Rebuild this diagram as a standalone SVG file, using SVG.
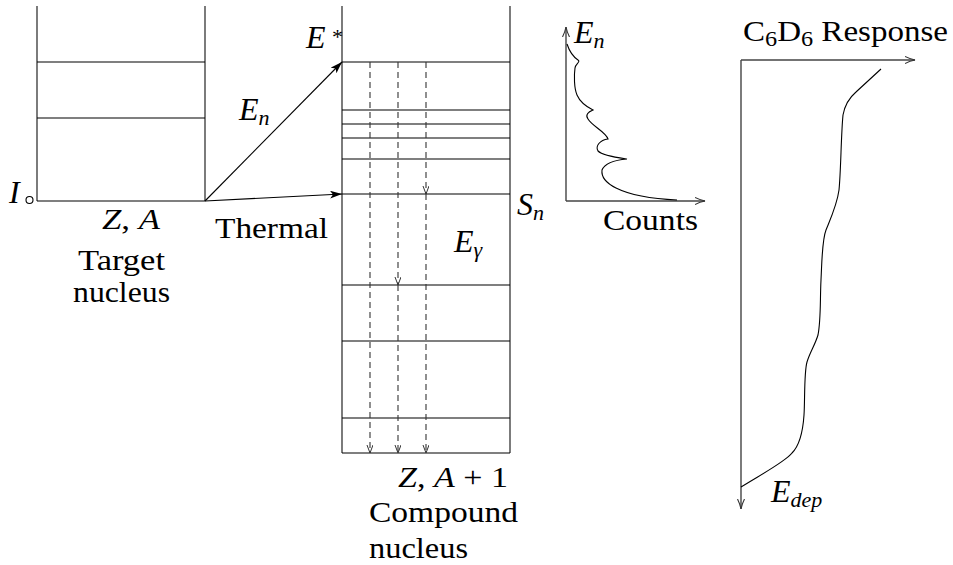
<svg xmlns="http://www.w3.org/2000/svg" width="953" height="565" viewBox="0 0 953 565">
<style>
text{font-family:"Liberation Serif","Times New Roman",serif;font-size:30px;fill:#000}
.m{font-style:italic}
.mb{font-style:italic;font-size:32px}
.sub{font-size:22px}
.v{stroke:#444;stroke-width:1.4;fill:none}
.h{stroke:#000;stroke-width:1.2;fill:none}
.d{stroke:#333;stroke-width:1.1;stroke-dasharray:6 4;fill:none}
.c{stroke:#000;stroke-width:1.1;fill:none}
</style>
<defs>
<marker id="fill" markerUnits="userSpaceOnUse" markerWidth="14" markerHeight="10" refX="12" refY="4" orient="auto">
<path d="M0,0 L12,4 L0,8 L3,4 z" fill="#000"/>
</marker>
<marker id="open" markerUnits="userSpaceOnUse" markerWidth="12" markerHeight="10" refX="10" refY="4" orient="auto">
<path d="M0,0.5 Q5,3 10,4 Q5,5 0,7.5" fill="none" stroke="#333" stroke-width="1.1"/>
</marker>
<marker id="dash" markerUnits="userSpaceOnUse" markerWidth="10" markerHeight="8" refX="8" refY="3" orient="auto">
<path d="M0,0 L8,3 L0,6" fill="none" stroke="#333" stroke-width="1"/>
</marker>
</defs>

<g id="target-nucleus">
<line class="v" x1="37" y1="6" x2="37" y2="201"/>
<line class="v" x1="205" y1="6" x2="205" y2="201"/>
<line class="h" x1="37" y1="62" x2="205" y2="62"/>
<line class="h" x1="37" y1="118" x2="205" y2="118"/>
<line class="h" x1="37" y1="201" x2="205" y2="201"/>
<text class="mb" x="9" y="203">I</text>
<circle cx="29.5" cy="200" r="3.5" fill="none" stroke="#000" stroke-width="1.1"/>
<text x="102" y="229" textLength="58" lengthAdjust="spacingAndGlyphs"><tspan class="m">Z</tspan>, <tspan class="m">A</tspan></text>
<text x="78" y="270" textLength="87" lengthAdjust="spacingAndGlyphs">Target</text>
<text x="73" y="302" textLength="97" lengthAdjust="spacingAndGlyphs">nucleus</text>
</g>

<g id="compound-nucleus">
<line class="v" x1="342" y1="6" x2="342" y2="453"/>
<line class="v" x1="510" y1="6" x2="510" y2="453"/>
<line class="h" x1="342" y1="62" x2="510" y2="62"/>
<line class="h" x1="342" y1="110" x2="510" y2="110"/>
<line class="h" x1="342" y1="124" x2="510" y2="124"/>
<line class="h" x1="342" y1="138" x2="510" y2="138"/>
<line class="h" x1="342" y1="159" x2="510" y2="159"/>
<line class="h" x1="342" y1="194" x2="510" y2="194"/>
<line class="h" x1="342" y1="285" x2="510" y2="285"/>
<line class="h" x1="342" y1="341" x2="510" y2="341"/>
<line class="h" x1="342" y1="418" x2="510" y2="418"/>
<line class="h" x1="342" y1="453" x2="510" y2="453"/>
<text class="mb" x="306" y="48">E</text>
<text x="332" y="44" style="font-size:22px">*</text>
<text class="mb" x="517" y="215">S<tspan class="sub" dy="5">n</tspan></text>
<text class="mb" x="454" y="252">E<tspan class="sub" dy="5">γ</tspan></text>
<text x="398" y="487" textLength="110" lengthAdjust="spacingAndGlyphs"><tspan class="m">Z</tspan>, <tspan class="m">A</tspan> + 1</text>
<text x="369" y="522" textLength="149" lengthAdjust="spacingAndGlyphs">Compound</text>
<text x="369" y="558" textLength="99" lengthAdjust="spacingAndGlyphs">nucleus</text>
</g>

<g id="spectrum">
<line class="v" x1="566" y1="201" x2="566" y2="27" marker-end="url(#open)"/>
<line class="v" x1="566" y1="201" x2="705" y2="201" marker-end="url(#open)"/>
<path class="c" d="M567,44 C569,50 572,56 578,60 C581,62 575,64 575,68 C574,75 574,88 577,95 C580,102 587,107 593,110 C588,112 585,115 588,119 C592,126 606,132 608,139 C600,140 595,146 598,151 C603,156 620,158 627,159 C615,160 605,163 602,170 C601,178 608,184 616,188 C630,195 655,199 677,200"/>
<text class="mb" x="574" y="43">E<tspan class="sub" dy="5">n</tspan></text>
<text x="603" y="230" textLength="95" lengthAdjust="spacingAndGlyphs">Counts</text>
</g>

<g id="c6d6-response">
<line class="v" x1="741" y1="60" x2="741" y2="509" marker-end="url(#open)"/>
<line class="v" x1="741" y1="60" x2="915" y2="60" marker-end="url(#open)"/>
<path class="c" d="M881,69 L856,92 C849,98 845,104 843,115 C841,135 841,170 839,190 C837,205 830,220 826,230 C822,240 822,260 821,280 C820,300 821,320 818,335 C815,345 810,352 807,362 C804,372 805,400 804,415 C803,430 800,445 792,453 C785,462 760,475 741,487"/>
<text x="743" y="41" textLength="205" lengthAdjust="spacingAndGlyphs">C<tspan class="sub" dy="5">6</tspan><tspan dy="-5">D</tspan><tspan class="sub" dy="5">6</tspan><tspan dy="-5"> Response</tspan></text>
<text class="mb" x="771" y="502">E<tspan class="sub" dy="5">dep</tspan></text>
</g>

<g id="connectors">
<line class="c" x1="205" y1="201" x2="342" y2="62" marker-end="url(#fill)"/>
<line class="c" x1="205" y1="201" x2="342" y2="194" marker-end="url(#fill)"/>
<text class="mb" x="239" y="120">E<tspan class="sub" dy="5">n</tspan></text>
<text x="215" y="238" textLength="113" lengthAdjust="spacingAndGlyphs">Thermal</text>
<line class="d" x1="370" y1="62" x2="370" y2="453" marker-end="url(#dash)"/>
<line class="d" x1="398" y1="62" x2="398" y2="285" marker-end="url(#dash)"/>
<line class="d" x1="398" y1="285" x2="398" y2="453" marker-end="url(#dash)"/>
<line class="d" x1="426" y1="62" x2="426" y2="194" marker-end="url(#dash)"/>
<line class="d" x1="426" y1="194" x2="426" y2="453" marker-end="url(#dash)"/>
</g>
</svg>
